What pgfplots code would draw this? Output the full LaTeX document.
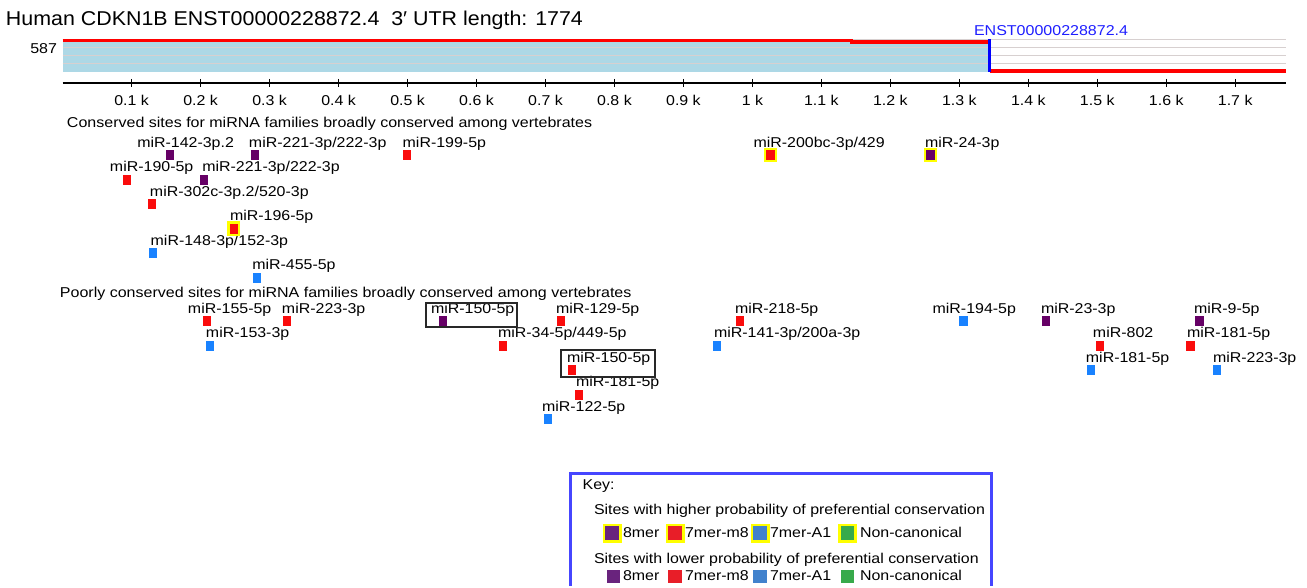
\documentclass[border=0pt]{standalone}
\usepackage{fontspec}
\setmainfont{Liberation Sans}[FakeStretch=1.12]
\newfontfamily\titlefont{Liberation Sans}[FakeStretch=1.07]
\usepackage{pgfplots}
\pgfplotsset{compat=1.18}
\definecolor{mpurple}{RGB}{102,0,102}
\definecolor{mred}{RGB}{250,12,12}
\definecolor{mblue}{RGB}{25,130,255}
\definecolor{myellow}{RGB}{255,255,0}
\definecolor{kpurple}{RGB}{105,35,125}
\definecolor{kred}{RGB}{232,30,40}
\definecolor{kblue}{RGB}{65,130,205}
\definecolor{kgreen}{RGB}{55,170,75}
\definecolor{band}{RGB}{173,216,230}
\definecolor{gline}{RGB}{215,208,208}
\definecolor{keyblue}{RGB}{70,70,255}
\definecolor{enstblue}{RGB}{30,30,255}
\definecolor{boxgray}{RGB}{40,40,40}
\newcommand\lbl{\fontsize{7.12}{8}\selectfont}
\newcommand\hdr{\fontsize{7.15}{8}\selectfont}
\newcommand\ttl{\titlefont\fontsize{10.0}{11}\selectfont}
\newcommand\PX[1]{((#1)-62.7)/0.6897}
\tikzset{lab/.style={anchor=base west, inner sep=0pt, outer sep=0pt, font=\lbl}}
\pgfplotsset{site/.style={only marks, mark=square*, color=#1, mark options={solid, draw=#1, fill=#1, line width=0.1pt}}}
\newcommand\Lab[3]{\node[lab] at (axis cs:{\PX{#1}},#2) {#3};}
\newcommand\Hdr[3]{\node[lab,font=\hdr] at (axis cs:{\PX{#1}},#2) {#3};}
\begin{document}
\begin{tikzpicture}
\begin{axis}[
  width=653.5pt, height=293pt, scale only axis,
  xmin=-90.9, xmax=1804.1, ymin=0, ymax=586, y dir=reverse,
  hide axis, clip=false,
]
% bounding box
\path (rel axis cs:0,0) rectangle (rel axis cs:1,1);
% ---- transcript panel
\addplot[draw=none, fill=band] coordinates {(0,41) (1344,41) (1344,72) (0,72)} -- cycle;
\addplot[gline, line width=0.5pt] coordinates {(0,40) (1774,40)};
\addplot[gline, line width=0.5pt] coordinates {(0,48) (1774,48)};
\addplot[gline, line width=0.5pt] coordinates {(0,56) (1774,56)};
\addplot[gline, line width=0.5pt] coordinates {(0,64) (1774,64)};
\addplot[red, line width=1.7pt] coordinates {(0,40.5) (1144,40.5) (1144,42) (1344,42)};
\addplot[red, line width=1.7pt] coordinates {(1344,71) (1774,71)};
\addplot[blue, line width=1.7pt] coordinates {(1344,39.5) (1344,72.5)};
% ---- ruler
\addplot[black, line width=0.65pt] coordinates {(0,83) (1774,83)};
\addplot[only marks, mark=|, mark size=2pt, black, mark options={solid, line width=0.65pt, black}]
  coordinates {(100,83) (200,83) (300,83) (400,83) (500,83) (600,83) (700,83) (800,83) (900,83)
  (1000,83) (1100,83) (1200,83) (1300,83) (1400,83) (1500,83) (1600,83) (1700,83)};
\node[lab, anchor=base] at (axis cs:100,106) {0.1 k};
\node[lab, anchor=base] at (axis cs:200,106) {0.2 k};
\node[lab, anchor=base] at (axis cs:300,106) {0.3 k};
\node[lab, anchor=base] at (axis cs:400,106) {0.4 k};
\node[lab, anchor=base] at (axis cs:500,106) {0.5 k};
\node[lab, anchor=base] at (axis cs:600,106) {0.6 k};
\node[lab, anchor=base] at (axis cs:700,106) {0.7 k};
\node[lab, anchor=base] at (axis cs:800,106) {0.8 k};
\node[lab, anchor=base] at (axis cs:900,106) {0.9 k};
\node[lab, anchor=base] at (axis cs:1000,106) {1 k};
\node[lab, anchor=base] at (axis cs:1100,106) {1.1 k};
\node[lab, anchor=base] at (axis cs:1200,106) {1.2 k};
\node[lab, anchor=base] at (axis cs:1300,106) {1.3 k};
\node[lab, anchor=base] at (axis cs:1400,106) {1.4 k};
\node[lab, anchor=base] at (axis cs:1500,106) {1.5 k};
\node[lab, anchor=base] at (axis cs:1600,106) {1.6 k};
\node[lab, anchor=base] at (axis cs:1700,106) {1.7 k};
% ---- titles
\node[lab, font=\ttl] at (axis cs:{\PX{6}},26) {Human CDKN1B ENST00000228872.4\ \ 3′ UTR length: 1774};
\node[lab, anchor=base east, font=\hdr] at (axis cs:{\PX{57}},53.5) {587};
\node[lab, font=\hdr, text=enstblue] at (axis cs:{\PX{974}},36) {ENST00000228872.4};
\Hdr{67}{127.3}{Conserved sites for miRNA families broadly conserved among vertebrates}
\Hdr{60}{298}{Poorly conserved sites for miRNA families broadly conserved among vertebrates}
% ---- sites: yellow frames (higher probability of preferential conservation)
\addplot[site=myellow, mark size=3.3pt, mark options={xscale=0.9}]
  coordinates {(248,228.5) (1026,155) (1258,155)};
% 8mer
\addplot[site=mpurple, mark size=2.25pt, mark options={xscale=0.8}]
  coordinates {(156,155) (279,155) (205,179.5) (1258,155) (551,321) (1426,321) (1648,321)};
% 7mer-m8
\addplot[site=mred, mark size=2.25pt, mark options={xscale=0.8}]
  coordinates {(499,155) (93,179.5) (129,204) (248,228.5) (1026,155)
  (209,321) (325,321) (722,321) (638,345.5) (738,370) (749,394.5) (982,321) (1504,345.5) (1635,345.5)};
% 7mer-A1
\addplot[site=mblue, mark size=2.25pt, mark options={xscale=0.8}]
  coordinates {(131,253) (282,277.5) (214,345.5) (704,419) (948,345.5) (1306,321) (1491,370) (1674,370)};
% ---- site labels
\Lab{137.3}{147.3}{miR-142-3p.2}
\Lab{249}{147.3}{miR-221-3p/222-3p}
\Lab{402.7}{147.3}{miR-199-5p}
\Lab{753.5}{147.3}{miR-200bc-3p/429}
\Lab{925}{147.3}{miR-24-3p}
\Lab{110}{171.8}{miR-190-5p}
\Lab{202.3}{171.8}{miR-221-3p/222-3p}
\Lab{150}{196.3}{miR-302c-3p.2/520-3p}
\Lab{230}{220.8}{miR-196-5p}
\Lab{150.7}{245.3}{miR-148-3p/152-3p}
\Lab{252.3}{269.8}{miR-455-5p}
\Lab{188}{313.3}{miR-155-5p}
\Lab{282}{313.3}{miR-223-3p}
\Lab{206}{337.8}{miR-153-3p}
\Lab{431}{313.3}{miR-150-5p}
\Lab{556}{313.3}{miR-129-5p}
\Lab{498}{337.8}{miR-34-5p/449-5p}
\Lab{567}{362.3}{miR-150-5p}
\Lab{576}{386.8}{miR-181-5p}
\Lab{542}{411.3}{miR-122-5p}
\Lab{735}{313.3}{miR-218-5p}
\Lab{714}{337.8}{miR-141-3p/200a-3p}
\Lab{932.6}{313.3}{miR-194-5p}
\Lab{1041}{313.3}{miR-23-3p}
\Lab{1093}{337.8}{miR-802}
\Lab{1086}{362.3}{miR-181-5p}
\Lab{1194}{313.3}{miR-9-5p}
\Lab{1187}{337.8}{miR-181-5p}
\Lab{1213}{362.3}{miR-223-3p}
% boxes around miR-150-5p
\draw[boxgray, line width=0.75pt] (axis cs:{\PX{426}},303) rectangle (axis cs:{\PX{517}},327);
\draw[boxgray, line width=0.75pt] (axis cs:{\PX{561}},350) rectangle (axis cs:{\PX{655}},377);
% ---- key
\draw[keyblue, line width=1.1pt] (axis cs:{\PX{570.5}},586) -- (axis cs:{\PX{570.5}},473.5) -- (axis cs:{\PX{991.5}},473.5) -- (axis cs:{\PX{991.5}},586);
\Lab{582.7}{490}{Key:}
\Lab{594}{515}{Sites with higher probability of preferential conservation}
\Lab{594}{564}{Sites with lower probability of preferential conservation}
\addplot[site=myellow, mark size=4.5pt]
  coordinates {(796.4,533) (887.7,533) (1011.0,533) (1137.2,533)};
\addplot[site=kpurple, mark size=3.2pt] coordinates {(796.4,533) (797.9,576)};
\addplot[site=kred, mark size=3.2pt] coordinates {(887.7,533) (887.7,576)};
\addplot[site=kblue, mark size=3.2pt] coordinates {(1011.0,533) (1011.0,576)};
\addplot[site=kgreen, mark size=3.2pt] coordinates {(1137.2,533) (1137.2,576)};
\Lab{623}{538}{8mer}
\Lab{685}{538}{7mer-m8}
\Lab{770}{538}{7mer-A1}
\Lab{860}{538}{Non-canonical}
\Lab{623}{581}{8mer}
\Lab{685}{581}{7mer-m8}
\Lab{770}{581}{7mer-A1}
\Lab{860}{581}{Non-canonical}
\end{axis}
\end{tikzpicture}
\end{document}
